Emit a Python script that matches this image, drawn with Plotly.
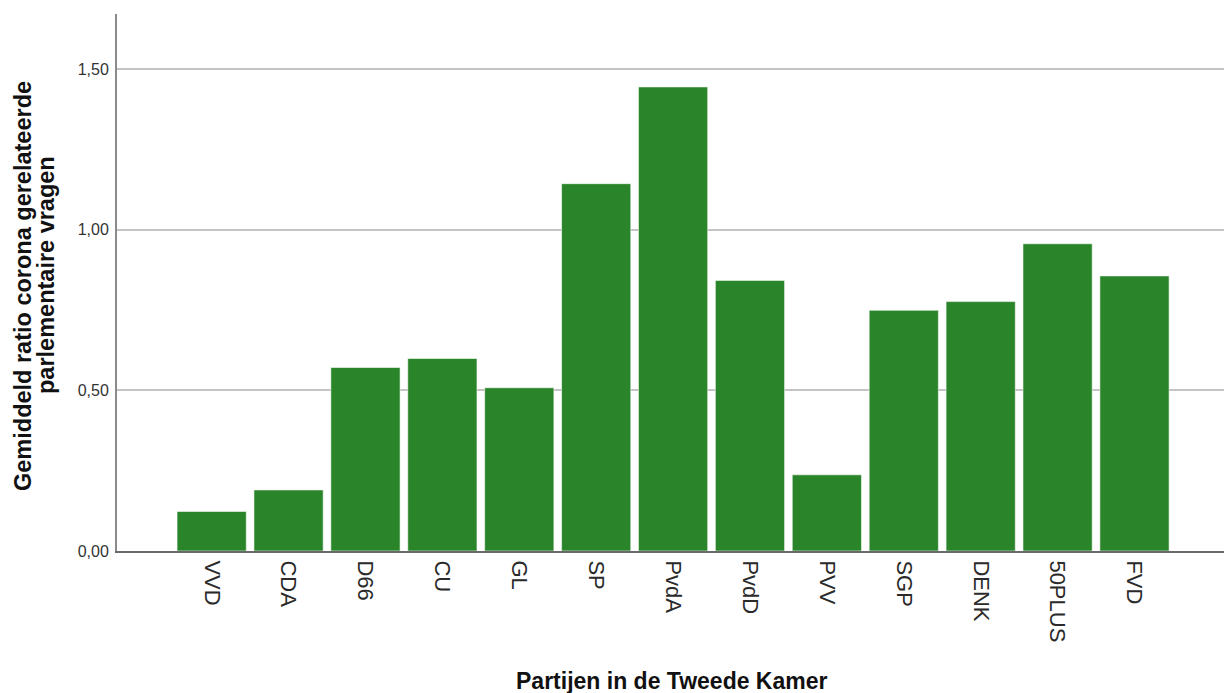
import plotly.graph_objects as go

parties = ["VVD", "CDA", "D66", "CU", "GL", "SP", "PvdA", "PvdD", "PVV", "SGP", "DENK", "50PLUS", "FVD"]
ratios = [0.123, 0.190, 0.571, 0.599, 0.508, 1.143, 1.444, 0.842, 0.237, 0.749, 0.776, 0.956, 0.856]
y_ticks = [0, 0.5, 1.0, 1.5]
y_tick_labels = ["0,00", "0,50", "1,00", "1,50"]
y_title_lines = ["Gemiddeld ratio corona gerelateerde", "parlementaire vragen"]
x_title = "Partijen in de Tweede Kamer"

W, H = 1224, 693
L, R, T, B = 117, 0, 14, 142
pw, ph = W - L - R, H - T - B

def px_x(x):
    return (x - L) / pw

def px_y(y):
    return (H - B - y) / ph

fig = go.Figure(go.Bar(
    x=list(range(len(parties))),
    y=ratios,
    marker=dict(color="#2a852a", line=dict(color="rgba(255,255,255,0.55)", width=1)),
    hoverinfo="skip",
))

font_family = "Liberation Sans, Arial, sans-serif"

fig.update_layout(
    width=W, height=H,
    margin=dict(l=L, r=R, t=T, b=B, pad=0),
    paper_bgcolor="white", plot_bgcolor="white",
    bargap=0.1,
    showlegend=False,
    separators=",.",
    font=dict(family=font_family, color="#222222"),
)

fig.update_xaxes(
    range=[-1.231, 13.164],
    tickmode="array",
    tickvals=list(range(len(parties))),
    ticktext=parties,
    tickangle=90,
    tickfont=dict(size=22, color="#2a2a2a", family=font_family),
    ticks="", showgrid=False, zeroline=False,
    showline=True, linecolor="#6a6a6a", linewidth=2,
    ticklabelstandoff=3,
)

fig.update_yaxes(
    range=[0, 1.671],
    tickmode="array",
    tickvals=y_ticks,
    ticktext=y_tick_labels,
    tickfont=dict(size=16, color="#333333", family=font_family),
    ticks="", showgrid=True, gridcolor="#c4c4c4", gridwidth=1.5,
    zeroline=False,
    showline=True, linecolor="#8a8a8a", linewidth=2,
    ticklabelstandoff=3,
)

annotations = [
    dict(text=y_title_lines[0], x=px_x(23), y=px_y(286), xref="paper", yref="paper",
         textangle=-90, showarrow=False, xanchor="center", yanchor="middle",
         font=dict(size=23.5, weight="bold", color="#111111", family=font_family)),
    dict(text=y_title_lines[1], x=px_x(46), y=px_y(275), xref="paper", yref="paper",
         textangle=-90, showarrow=False, xanchor="center", yanchor="middle",
         font=dict(size=23.5, weight="bold", color="#111111", family=font_family)),
    dict(text=x_title, x=px_x(672), y=px_y(681), xref="paper", yref="paper",
         showarrow=False, xanchor="center", yanchor="middle",
         font=dict(size=23, weight="bold", color="#111111", family=font_family)),
]
fig.update_layout(annotations=annotations)

fig.write_html(
    "out.html",
    config={"displayModeBar": False},
    post_script="document.body.style.margin='0';document.body.style.overflow='hidden';",
)
